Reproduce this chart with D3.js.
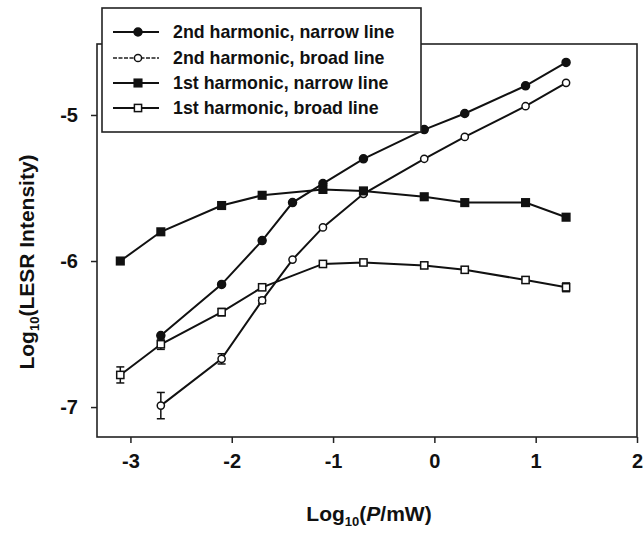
<!DOCTYPE html>
<html>
<head>
<meta charset="utf-8">
<script src="https://cdn.jsdelivr.net/npm/d3@7"></script>
<style>
  html, body { margin: 0; padding: 0; background: #fff; }
  svg { display: block; }
  text { font-family: "Liberation Sans", Arial, sans-serif; fill: #111; }
</style>
</head>
<body>
<svg id="chart" width="644" height="533"></svg>
<script>
// ---- data ----
const xTicks = [-3, -2, -1, 0, 1, 2];
const yTicks = [-7, -6, -5];

const x2nNarrow = [-2.7, -2.1, -1.7, -1.4, -1.1, -0.7, -0.1, 0.3, 0.9, 1.3];
const y2nNarrow = [-6.51, -6.16, -5.86, -5.60, -5.47, -5.30, -5.10, -4.99, -4.80, -4.64];

const x2nBroad = [-2.7, -2.1, -1.7, -1.4, -1.1, -0.7, -0.1, 0.3, 0.9, 1.3];
const y2nBroad = [-6.99, -6.67, -6.27, -5.99, -5.77, -5.54, -5.30, -5.15, -4.94, -4.78];
const e2nBroad = [0.09, 0.035, 0.02, 0, 0, 0, 0, 0, 0, 0];

const x1stNarrow = [-3.1, -2.7, -2.1, -1.7, -1.1, -0.7, -0.1, 0.3, 0.9, 1.3];
const y1stNarrow = [-6.00, -5.80, -5.62, -5.55, -5.51, -5.52, -5.56, -5.60, -5.60, -5.70];

const x1stBroad = [-3.1, -2.7, -2.1, -1.7, -1.1, -0.7, -0.1, 0.3, 0.9, 1.3];
const y1stBroad = [-6.78, -6.57, -6.35, -6.18, -6.02, -6.01, -6.03, -6.06, -6.13, -6.18];
const e1stBroad = [0.055, 0.035, 0.025, 0.02, 0.015, 0.015, 0.02, 0.02, 0.02, 0.03];

const seriesNames = [
  "2nd harmonic, narrow line",
  "2nd harmonic, broad line",
  "1st harmonic, narrow line",
  "1st harmonic, broad line"
];

// ---- build ----
const series = [
  { name: seriesNames[0], xs: x2nNarrow, ys: y2nNarrow, es: null, marker: "circle", filled: true },
  { name: seriesNames[1], xs: x2nBroad, ys: y2nBroad, es: e2nBroad, marker: "circle", filled: false },
  { name: seriesNames[2], xs: x1stNarrow, ys: y1stNarrow, es: null, marker: "square", filled: true },
  { name: seriesNames[3], xs: x1stBroad, ys: y1stBroad, es: e1stBroad, marker: "square", filled: false }
];

const svg = d3.select("#chart");
const L = 97, R = 637, T = 44, B = 437;

const x = d3.scaleLinear().domain([-3.33, 2]).range([L, R]);
const y = d3.scaleLinear().domain([-7.205, -4.514]).range([B, T]);

// frame
svg.append("rect").attr("x", L).attr("y", T).attr("width", R - L).attr("height", B - T)
  .attr("fill", "none").attr("stroke", "#222").attr("stroke-width", 1.6);

// axes
const fmt = d => String(d);
const xAxis = svg.append("g").attr("transform", `translate(0,${B})`)
  .call(d3.axisBottom(x).tickValues(xTicks).tickFormat(fmt).tickSize(6).tickPadding(11));
const yAxis = svg.append("g").attr("transform", `translate(${L},0)`)
  .call(d3.axisLeft(y).tickValues(yTicks).tickFormat(fmt).tickSize(6).tickPadding(13));
[xAxis, yAxis].forEach(g => {
  g.select(".domain").remove();
  g.selectAll(".tick line").attr("stroke", "#222").attr("stroke-width", 1.5);
  g.selectAll(".tick text").attr("font-size", 20).attr("font-weight", "bold")
    .attr("fill", "#111").style("font-family", "'Liberation Sans', Arial, sans-serif");
});

// lines
const line = d3.line().x(d => x(d[0])).y(d => y(d[1]));
series.forEach(s => {
  const pts = s.xs.map((v, i) => [v, s.ys[i], s.es ? s.es[i] : 0]);
  const g = svg.append("g");
  g.append("path").attr("d", line(pts)).attr("fill", "none")
    .attr("stroke", "#111").attr("stroke-width", 2);
  // error bars
  pts.filter(p => p[2] > 0).forEach(p => {
    const cx = x(p[0]), y1 = y(p[1] - p[2]), y2 = y(p[1] + p[2]);
    g.append("line").attr("x1", cx).attr("x2", cx).attr("y1", y1).attr("y2", y2)
      .attr("stroke", "#111").attr("stroke-width", 1.5);
    [y1, y2].forEach(yy => g.append("line").attr("x1", cx - 4).attr("x2", cx + 4)
      .attr("y1", yy).attr("y2", yy).attr("stroke", "#111").attr("stroke-width", 1.5));
  });
  drawMarkers(g, pts.map(p => [x(p[0]), y(p[1])]), s);
});

function drawMarkers(g, coords, s) {
  coords.forEach(([cx, cy]) => {
    if (s.marker === "circle") {
      g.append("circle").attr("cx", cx).attr("cy", cy).attr("r", s.filled ? 4 : 3.6)
        .attr("fill", s.filled ? "#111" : "#fff").attr("stroke", "#111").attr("stroke-width", 1.5);
    } else {
      const h = s.filled ? 3.8 : 3.6;
      g.append("rect").attr("x", cx - h).attr("y", cy - h).attr("width", 2 * h).attr("height", 2 * h)
        .attr("fill", s.filled ? "#111" : "#fff").attr("stroke", "#111").attr("stroke-width", 1.5);
    }
  });
}

// legend
const lg = svg.append("g");
lg.append("rect").attr("x", 102).attr("y", 8).attr("width", 319).attr("height", 124)
  .attr("fill", "#fff").attr("stroke", "#222").attr("stroke-width", 1.6);
const rowY = [32, 58, 83, 108];
series.forEach((s, i) => {
  const yy = rowY[i];
  lg.append("line").attr("x1", 113).attr("x2", 159).attr("y1", yy).attr("y2", yy)
    .attr("stroke", i === 1 ? "#555" : "#111").attr("stroke-width", 2)
    .attr("stroke-dasharray", i === 1 ? "4,1.5" : null);
  drawMarkers(lg, [[138, yy]], s);
  lg.append("text").attr("x", 173).attr("y", yy).attr("dy", "0.36em")
    .attr("font-size", 17.8).attr("font-weight", "bold").text(s.name);
});

// axis titles
const xt = svg.append("text").attr("x", 369).attr("y", 521).attr("text-anchor", "middle")
  .attr("font-size", 21).attr("font-weight", "bold");
xt.append("tspan").text("Log");
xt.append("tspan").attr("font-size", 13).attr("dy", 5).text("10");
xt.append("tspan").attr("dy", -5).text("(");
xt.append("tspan").attr("font-style", "italic").text("P");
xt.append("tspan").text("/mW)");

const yt = svg.append("text").attr("transform", "translate(34,262) rotate(-90)")
  .attr("text-anchor", "middle").attr("font-size", 21).attr("font-weight", "bold");
yt.append("tspan").text("Log");
yt.append("tspan").attr("font-size", 13).attr("dy", 5).text("10");
yt.append("tspan").attr("dy", -5).text("(LESR Intensity)");
</script>
</body>
</html>
